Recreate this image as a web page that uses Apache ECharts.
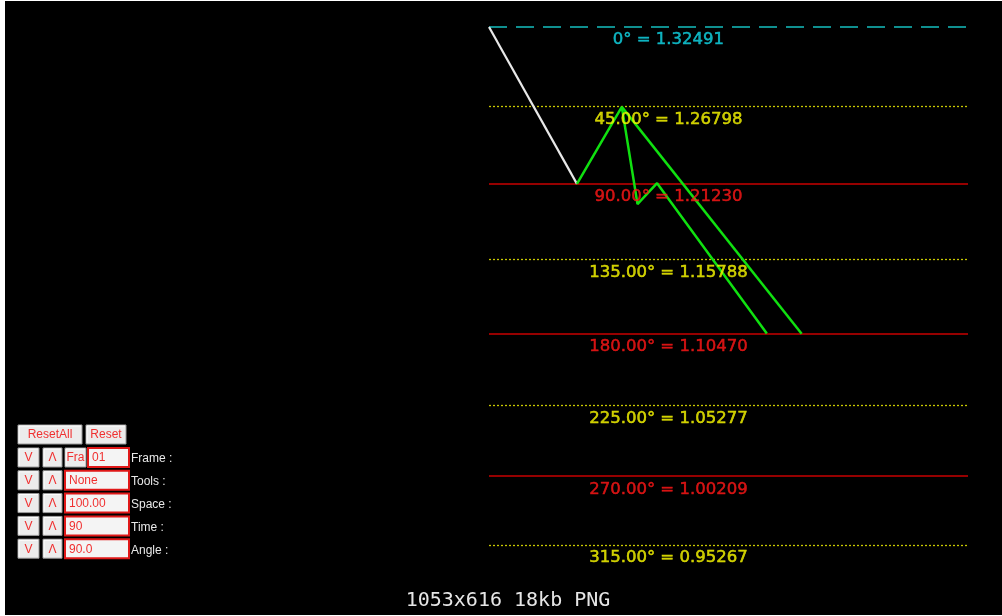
<!DOCTYPE html>
<html>
<head>
<meta charset="utf-8">
<script src="https://cdn.jsdelivr.net/npm/echarts@6/dist/echarts.min.js"></script>
<style>
html,body{margin:0;padding:0;background:#fff;}
#c{width:1002px;height:616px;}
</style>
</head>
<body>
<div id="c"></div>
<script>
// ---- data ----
var levelAngles = ['0°', '45.00°', '90.00°', '135.00°', '180.00°', '225.00°', '270.00°', '315.00°'];
var levelPrices = [1.32491, 1.26798, 1.21230, 1.15788, 1.10470, 1.05277, 1.00209, 0.95267];
var levelKinds  = ['base', 'minor', 'major', 'minor', 'major', 'minor', 'major', 'minor'];

var swingBars   = [0, 20.2];
var swingPrices = [1.32491, 1.2122];

var waveBars    = [20.2, 30.5, 34.1, 38.6, 63.8];
var wavePrices  = [1.2122, 1.2675, 1.1977, 1.2127, 1.1047];

var branchBars   = [30.5, 71.8];
var branchPrices = [1.2675, 1.1045];

var panelRows   = ['Frame :', 'Tools :', 'Space :', 'Time :', 'Angle :'];
var panelValues = ['01', 'None', '100.00', '90', '90.0'];
var footerText  = '1053x616 18kb PNG';

// ---- build ----
function zip(xs, ys) { return xs.map(function (x, i) { return [x, ys[i]]; }); }

var kindStyle = {
  base:  { line: '#0f8f8f', text: '#12d4e4', type: [18, 9], width: 2.2 },
  minor: { line: '#c8c800', text: '#f6f600', type: [2, 2], width: 1.3 },
  major: { line: '#c80000', text: '#ff1818', type: 'solid', width: 1.6 }
};

var labelX = 41.2;
var labelData = levelPrices.map(function (p, i) {
  var st = kindStyle[levelKinds[i]];
  return {
    value: [labelX, p],
    label: {
      formatter: levelAngles[i] + ' = ' + p.toFixed(5),
      color: st.text,
      textBorderColor: st.text,
      textBorderWidth: 0.5
    }
  };
});
var markData = levelPrices.map(function (p, i) {
  var st = kindStyle[levelKinds[i]];
  return {
    yAxis: p,
    lineStyle: { color: st.line, type: st.type, width: st.width }
  };
});

// control panel graphics
var g = [];
g.push({ type: 'rect', shape: { x: 5, y: 1, width: 997, height: 614 }, style: { fill: '#000' }, z: -10, silent: true });

var uiFont = '12px "Liberation Sans", Arial, sans-serif';
function button(x, y, w, h, txt) {
  g.push({ type: 'rect', shape: { x: x, y: y, width: w, height: h }, style: { fill: '#ececec', stroke: '#9a9a9a', lineWidth: 1 }, z: 10 });
  g.push({ type: 'polyline', shape: { points: [[x + 1, y + h - 1], [x + 1, y + 1], [x + w - 1, y + 1]] }, style: { stroke: '#ffffff', lineWidth: 1, fill: null }, z: 11 });
  g.push({ type: 'text', x: x + w / 2, y: y + h / 2 + 0.5, style: { text: txt, fill: '#f03030', font: uiFont, align: 'center', verticalAlign: 'middle' }, z: 12 });
}
function edit(x, y, w, h, txt) {
  g.push({ type: 'rect', shape: { x: x, y: y, width: w, height: h }, style: { fill: '#f4f4f4', stroke: '#e01818', lineWidth: 2 }, z: 10 });
  g.push({ type: 'text', x: x + 4, y: y + h / 2 + 0.5, style: { text: txt, fill: '#f03030', font: uiFont, align: 'left', verticalAlign: 'middle' }, z: 12 });
}
button(18, 425, 64, 19, 'ResetAll');
button(86, 425, 40, 19, 'Reset');
panelRows.forEach(function (name, i) {
  var y = 448 + i * 22.8;
  button(18, y, 21, 19, 'V');
  button(43, y, 19, 19, 'Λ');
  if (i === 0) {
    button(65, y, 21, 19, 'Fra');
    edit(88, y, 41, 19, panelValues[i]);
  } else {
    edit(65, y, 64, 19, panelValues[i]);
  }
  g.push({ type: 'text', x: 131, y: y + 11, style: { text: name, fill: '#e8e8e8', font: uiFont, align: 'left', verticalAlign: 'middle' }, z: 12 });
});
g.push({ type: 'text', x: 508, y: 601, style: { text: footerText, fill: '#e6e6e6', font: '20px "DejaVu Sans Mono", monospace', align: 'center', verticalAlign: 'middle' }, z: 12 });

var chart = echarts.init(document.getElementById('c'), null, { renderer: 'canvas' });
chart.setOption({
  backgroundColor: '#ffffff',
  animation: false,
  grid: { left: 489, right: 34, top: 27, bottom: 71 },
  xAxis: { type: 'value', min: 0, max: 110, show: false },
  yAxis: { type: 'value', min: 0.95267, max: 1.32491, show: false, scale: true },
  graphic: g,
  series: [
    {
      type: 'scatter',
      data: labelData,
      symbolSize: 0,
      silent: true,
      z: 5,
      label: {
        show: true,
        position: 'inside',
        offset: [0, 13],
        align: 'center',
        verticalAlign: 'middle',
        fontFamily: 'DejaVu Sans',
        fontSize: 16.5
      },
      markLine: {
        silent: true,
        symbol: 'none',
        precision: 5,
        label: { show: false },
        data: markData,
        z: 1
      }
    },
    {
      type: 'line',
      data: zip(swingBars, swingPrices),
      showSymbol: false,
      lineStyle: { color: '#e8e8e8', width: 2.2 },
      z: 3
    },
    {
      type: 'line',
      data: zip(waveBars, wavePrices),
      showSymbol: false,
      lineStyle: { color: '#10e010', width: 2.5 },
      z: 3
    },
    {
      type: 'line',
      data: zip(branchBars, branchPrices),
      showSymbol: false,
      lineStyle: { color: '#10e010', width: 2.5 },
      z: 3
    }
  ]
});
</script>
</body>
</html>
